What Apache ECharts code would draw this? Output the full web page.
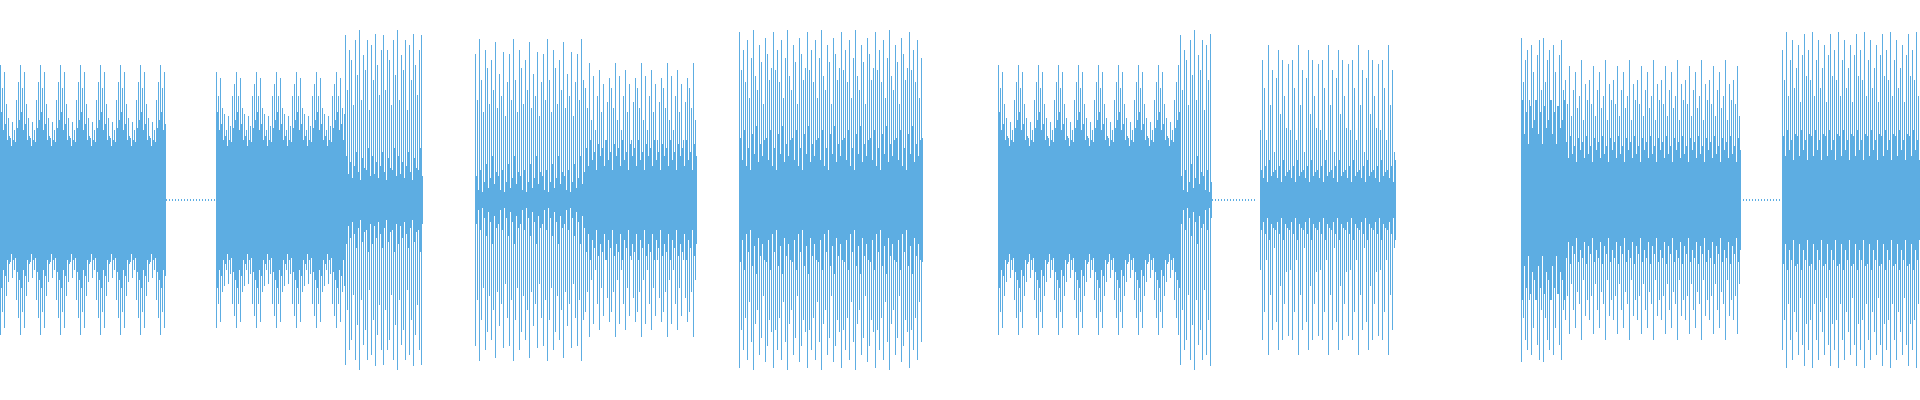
<!DOCTYPE html>
<html>
<head>
<meta charset="utf-8">
<script src="https://cdn.jsdelivr.net/npm/echarts@6/dist/echarts.min.js"></script>
<style>
html, body { margin: 0; padding: 0; background: #fff; }
#main { width: 1920px; height: 400px; }
</style>
</head>
<body>
<div id="main"></div>
<script>
// spike amplitude patterns (px above centre)
var beatOuter = [135, 112, 128, 96, 82, 62, 78, 70, 100, 118];
var beatInner = [88, 70, 76, 60, 64, 54, 60, 58, 72, 80];
var beatOuter2 = [128, 104, 122, 92, 86, 70, 84, 74, 104, 116];
var bigOuter = [165, 110, 150, 140, 95, 160, 125, 170, 100, 145, 130, 160, 90, 155, 120, 166, 135, 105, 150];
var bigInner = [44, 26, 38, 22, 34, 48, 28, 20, 42, 32, 30, 52, 24];
var narrowOuter = [146, 100, 161, 120, 88, 150, 132, 96, 140, 110, 158, 92, 126, 104, 148, 84, 118];
var narrowInner = [24, 10, 30, 8, 18, 36, 12, 22, 44, 16, 28];
var midOuter = [112, 92, 137, 80, 124, 70, 104, 130, 88, 116, 60, 98, 122];
var midInner = [52, 34, 60, 40, 48, 30, 56, 44];
var loudOuter = [168, 130, 150, 118, 160, 102, 142, 170, 124, 110, 155, 138, 96, 162, 146, 120, 132];
var loudInner = [62, 40, 70, 34, 52, 30, 66, 46, 74, 38, 56, 44, 60];
var thinOuter = [70, 140, 112, 60, 155, 95, 130, 48, 122, 150, 86, 140, 104, 72, 136];
var thinInner = [30, 22, 34, 18, 40, 24, 28];
var hotOuter = [162, 118, 140, 150, 100, 155, 128, 90, 145, 160, 110];
var hotInner = [100, 66, 88, 56, 94, 72, 80];
var medOuter = [120, 96, 134, 84, 110, 128, 92, 104, 140, 80, 116, 100];
var medInner = [58, 42, 64, 46, 54, 38, 62, 50];
var endOuter = [150, 120, 168, 104, 140, 160, 112, 132, 155, 98, 145, 166, 124];
var endInner = [64, 44, 70, 50, 60, 40, 66];

// [from px, to px, outer pattern, inner pattern]
var segments = [
  [0, 166, beatOuter, beatInner],
  [216, 345, beatOuter2, beatInner],
  [345, 423, bigOuter, bigInner],
  [475, 585, narrowOuter, narrowInner],
  [585, 696, midOuter, midInner],
  [739, 922, loudOuter, loudInner],
  [998, 1180, beatOuter, beatInner],
  [1180, 1212, bigOuter, narrowInner],
  [1260, 1395, thinOuter, thinInner],
  [1521, 1565, hotOuter, hotInner],
  [1565, 1740, medOuter, medInner],
  [1782, 1920, endOuter, endInner]
];
var gaps = [[166, 216], [1212, 1255], [1740, 1782]];

var spikes = [];
segments.forEach(function (s) {
  var k = 0;
  for (var x = s[0]; x < s[1]; x += 2, k++) {
    spikes.push([x, s[2][k % s[2].length], s[3][k % s[3].length]]);
  }
});
gaps.forEach(function (g) {
  for (var x = g[0]; x < g[1]; x += 3) spikes.push([x, 1, 0]);
});

var chart = echarts.init(document.getElementById('main'));
chart.setOption({
  animation: false,
  grid: { left: 0, right: 0, top: 0, bottom: 0 },
  xAxis: { type: 'value', min: 0, max: 1920, show: false },
  yAxis: { type: 'value', min: -200, max: 200, show: false },
  series: [{
    type: 'custom',
    data: spikes,
    renderItem: function (params, api) {
      var x = api.value(0), o = api.value(1), inn = api.value(2);
      var top = api.coord([x, o]), bot = api.coord([x, -o]);
      var it = api.coord([x, inn]), ib = api.coord([x, -inn]);
      var px = Math.round(top[0]);
      var kids = [{
        type: 'rect',
        shape: { x: px, y: top[1], width: 1, height: bot[1] - top[1] },
        style: { fill: '#5dade2' }
      }];
      if (inn > 0) kids.push({
        type: 'rect',
        shape: { x: px, y: it[1], width: 2, height: ib[1] - it[1] },
        style: { fill: '#5dade2' }
      });
      return { type: 'group', children: kids };
    }
  }]
});
</script>
</body>
</html>
